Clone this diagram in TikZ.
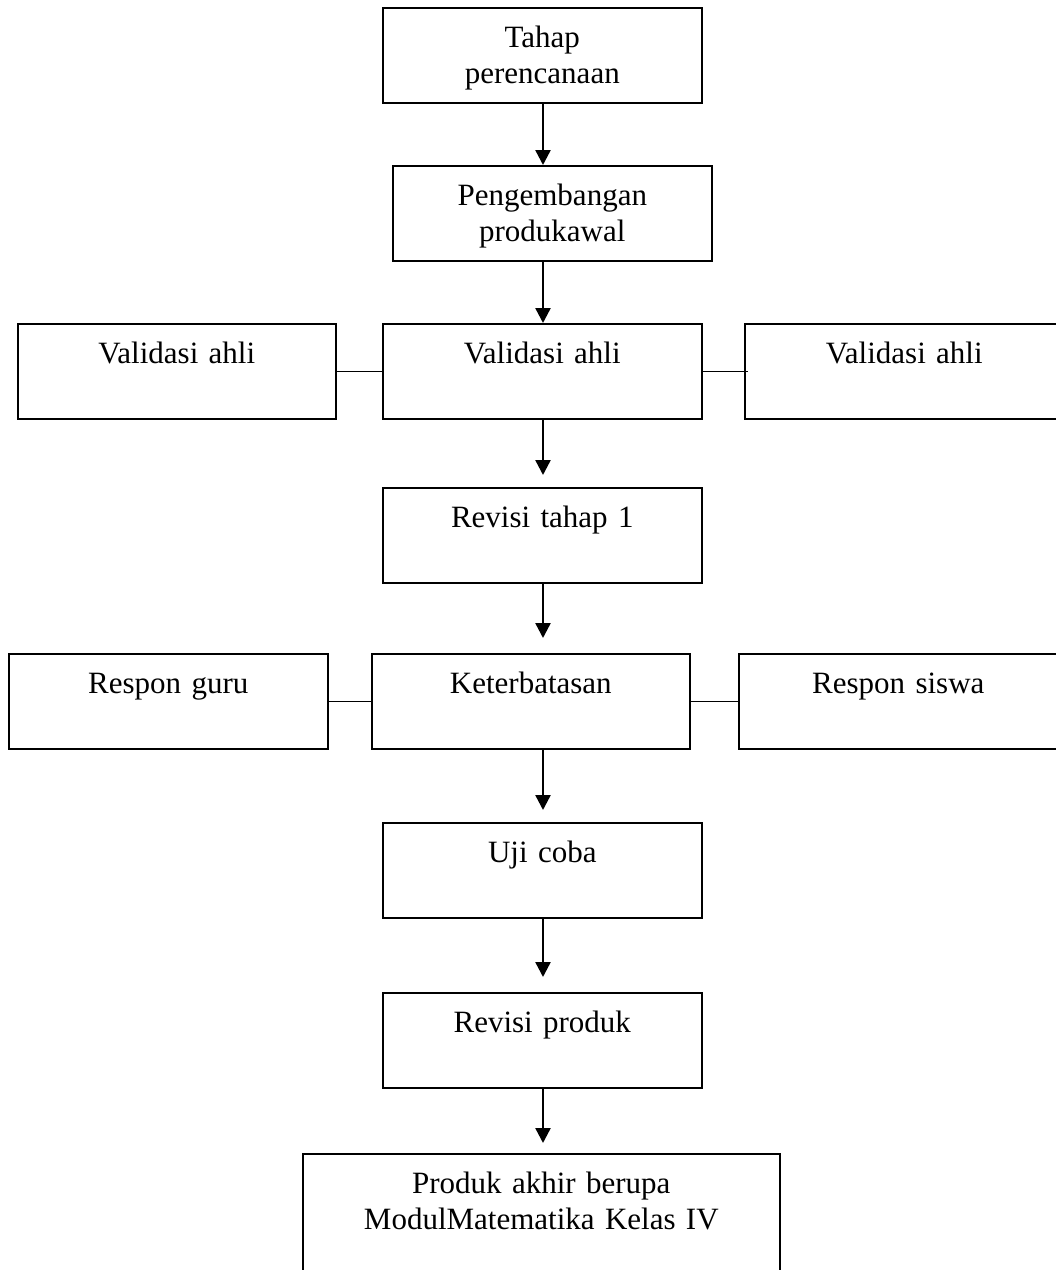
\documentclass[tikz,border=0pt]{standalone}
\usepackage{fontspec}
\setmainfont{Liberation Serif}
\usetikzlibrary{arrows.meta}
\begin{document}
\begin{tikzpicture}[x=1pt,y=-1pt,
  bx/.style={draw, line width=1.6pt, inner sep=0pt, anchor=north west, align=center,
    text height=40pt, text depth=55pt, text width=319pt, font=\fontsize{31}{36}\selectfont},
  arr/.style={line width=2.4pt, -{Triangle[width=15pt,length=15pt]}},
  ln/.style={line width=1.6pt}]
\useasboundingbox (0,0) rectangle (1056,1270);
\node[bx] (b1) at (382,7) {Tahap\\perencanaan};
\node[bx] (b2) at (392,165) {Pengembangan\\produkawal};
\node[bx, text width=318pt] (va1) at (17,323) {Validasi ahli};
\node[bx] (va2) at (382,323) {Validasi ahli};
\node[bx] (va3) at (744,323) {Validasi ahli};
\node[bx] (r1) at (382,487) {Revisi tahap 1};
\node[bx] (rg) at (8,653) {Respon guru};
\node[bx, text width=318pt] (kt) at (371,653) {Keterbatasan};
\node[bx] (rs) at (738,653) {Respon siswa};
\node[bx] (uc) at (382,822) {Uji coba};
\node[bx] (rp) at (382,992) {Revisi produk};
\node[bx, text width=477pt, text depth=140pt] (pa) at (302,1153) {Produk akhir berupa\\ModulMatematika Kelas IV};
\coordinate (ax) at (543,0);
\draw[arr] (b1.south -| ax) -- (b2.north -| ax);
\draw[arr] (b2.south -| ax) -- (va2.north -| ax);
\draw[arr, shorten >=12pt] (va2.south -| ax) -- (r1.north -| ax);
\draw[arr, shorten >=15pt] (r1.south -| ax) -- (kt.north -| ax);
\draw[arr, shorten >=12pt] (kt.south -| ax) -- (uc.north -| ax);
\draw[arr, shorten >=15pt] (uc.south -| ax) -- (rp.north -| ax);
\draw[arr, shorten >=10pt] (rp.south -| ax) -- (pa.north -| ax);
\draw[ln] (va1.east) -- (va2.west);
\draw[ln] (va2.east) -- ([xshift=4pt]va3.west);
\draw[ln] (rg.east) -- (kt.west);
\draw[ln] (kt.east) -- (rs.west);
\end{tikzpicture}
\end{document}
